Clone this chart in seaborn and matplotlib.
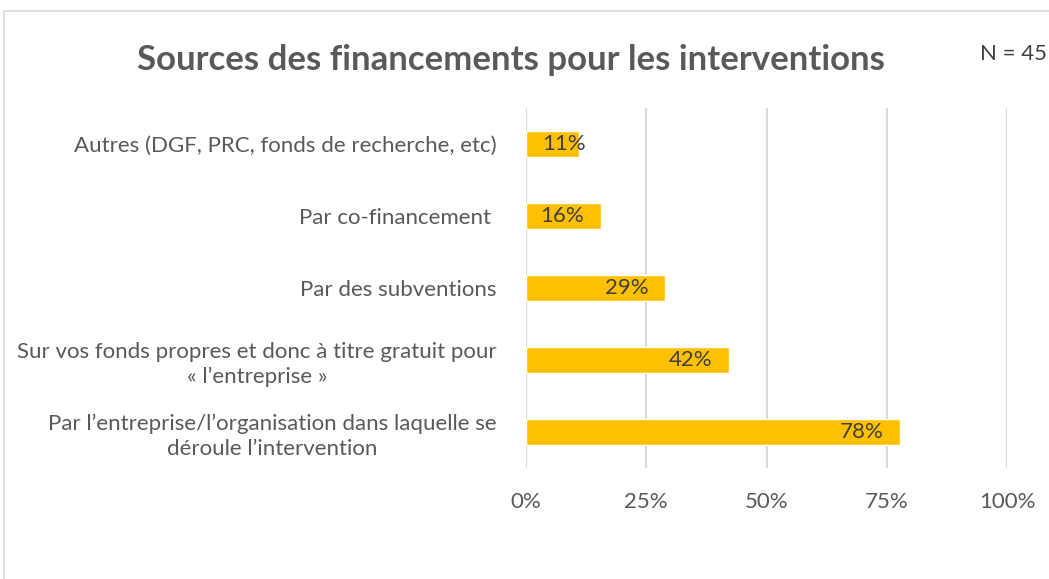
import matplotlib
matplotlib.use("Agg")
import matplotlib.pyplot as plt
import seaborn as sns
import pandas as pd
from matplotlib.patches import Rectangle
from matplotlib.ticker import FuncFormatter

# Data
categories = [
    "Autres (DGF, PRC, fonds de recherche, etc)",
    "Par co-financement ",
    "Par des subventions",
    "Sur vos fonds propres et donc à titre gratuit pour\n« l’entreprise »",
    "Par l’entreprise/l’organisation dans laquelle se\ndéroule l’intervention",
]
values = [11.1, 15.6, 28.9, 42.2, 77.8]
value_labels = ["11%", "16%", "29%", "42%", "78%"]
x_ticks = [0, 25, 50, 75, 100]

df = pd.DataFrame({"source": categories, "pct": values})

sns.set_theme(style="white")
plt.rcParams['font.family'] = ['Lato', 'DejaVu Sans']

fig = plt.figure(figsize=(10.49, 5.79), dpi=100)
ax = fig.add_axes([0.5014, 0.1917, 0.4586, 0.6218])

sns.barplot(data=df, x="pct", y="source", orient="h", color="#FFC000",
            width=0.37, saturation=1, ax=ax)

# grid
ax.set_xlim(0, 100)
ax.set_xticks(x_ticks)
ax.xaxis.set_major_formatter(FuncFormatter(lambda v, p: f"{int(v)}%"))
ax.grid(axis="x", color="#D9D9D9", linewidth=1.5)
ax.grid(axis="y", visible=False)
ax.set_axisbelow(True)
for s in ax.spines.values():
    s.set_visible(False)

ax.set_xlabel("")
ax.set_ylabel("")
ax.tick_params(axis="x", length=0, pad=17, labelsize=16, labelcolor="#595959")
ax.tick_params(axis="y", length=0, pad=21, labelsize=16, labelcolor="#595959")
for t in ax.get_yticklabels():
    t.set_multialignment("center")
    t.set_linespacing(1.3)

# value labels
for i, (v, lab) in enumerate(zip(values, value_labels)):
    if v < 15:
        ax.annotate(lab, (0, i), xytext=(12, 0), textcoords="offset points",
                    ha="left", va="center", fontsize=16, color="#404040")
    else:
        ax.annotate(lab, (v, i), xytext=(-12, 0), textcoords="offset points",
                    ha="right", va="center", fontsize=16, color="#404040")

fig.text(0.487, 0.896, "Sources des financements pour les interventions",
         ha="center", va="center", fontsize=25, fontweight="bold", color="#595959")
fig.text(0.966, 0.907, "N = 45", ha="center", va="center", fontsize=16, color="#404040")

# chart border
fig.patches.append(Rectangle((0.0038, -0.05), 1.05, 1.031, transform=fig.transFigure,
                             fill=False, edgecolor="#D9D9D9", linewidth=1.2))

fig.savefig("out.png", dpi=100)
